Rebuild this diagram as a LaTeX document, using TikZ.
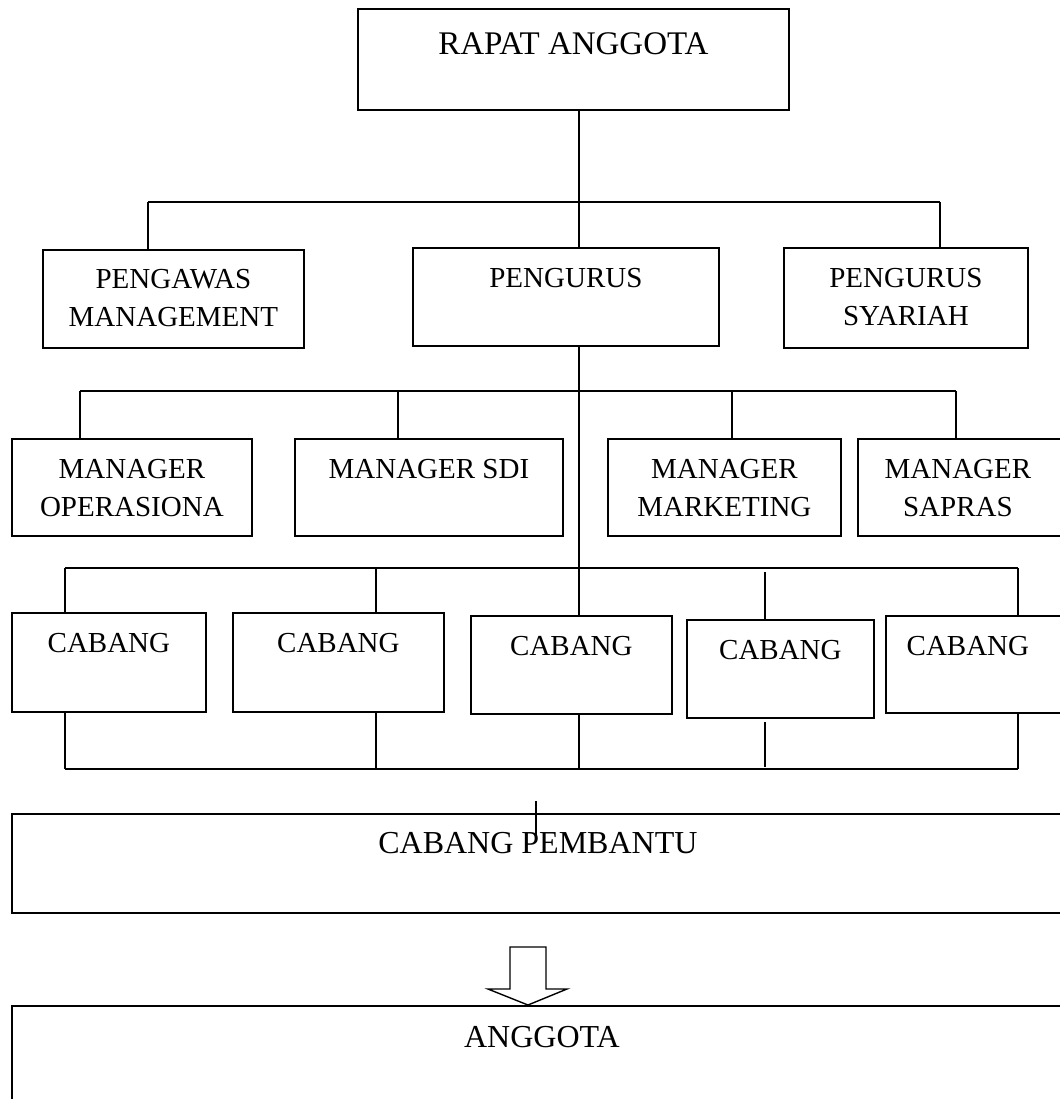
\documentclass[tikz,border=0pt]{standalone}
\usepackage{fontspec}
\setmainfont{Liberation Serif}
\usepackage{tikz}
\usetikzlibrary{positioning}
\tikzset{unit text/.style={anchor=north,inner sep=0pt,yshift=-21pt,align=center,
    font=\fontsize{29}{38}\selectfont}}

\begin{document}
\begin{tikzpicture}[x=1pt,y=-1pt,
    unit/.style={draw,line width=1.8pt,inner sep=0pt,anchor=north west},
    link/.style={line width=1.4pt},
    bus/.style={line width=2.2pt}]

  \useasboundingbox (0,0) rectangle (1059,1099);

  % top level
  \node[unit,minimum width=431pt,minimum height=101pt,
      label={[unit text,yshift=-3pt,font=\fontsize{33}{38}\selectfont]north:RAPAT ANGGOTA}]
    (Rapat) at (357,8) {};
  \node[unit,minimum width=261pt,minimum height=98pt,
      label={[unit text,yshift=1pt]north:{PENGAWAS\\MANAGEMENT}}]
    (Pengawas) at (42,249) {};
  \node[unit,minimum width=306pt,minimum height=98pt,
      label={[unit text]north:PENGURUS}]
    (Pengurus) at (412,247) {};
  \node[unit,minimum width=244pt,minimum height=100pt,
      label={[unit text]north:{PENGURUS\\SYARIAH}}]
    (Syariah) at (783,247) {};

  % managers
  \node[unit,minimum width=240pt,minimum height=97pt,
      label={[unit text]north:{MANAGER\\OPERASIONA}}]
    (Operasional) at (11,438) {};
  \node[unit,minimum width=268pt,minimum height=97pt,
      label={[unit text]north:MANAGER SDI}]
    (SDI) at (294,438) {};
  \node[unit,minimum width=233pt,minimum height=97pt,
      label={[unit text]north:{MANAGER\\MARKETING}}]
    (Marketing) at (607,438) {};
  \node[unit,minimum width=210pt,minimum height=97pt,
      label={[unit text,xshift=-5pt]north:{MANAGER\\SAPRAS}}]
    (Sapras) at (857,438) {};

  % branches
  \node[unit,minimum width=194pt,minimum height=99pt,
      label={[unit text]north:CABANG}]
    (CabangA) at (11,612) {};
  \node[unit,minimum width=211pt,minimum height=99pt,
      label={[unit text]north:CABANG}]
    (CabangB) at (232,612) {};
  \node[unit,minimum width=201pt,minimum height=98pt,
      label={[unit text]north:CABANG}]
    (CabangC) at (470,615) {};
  \node[unit,minimum width=187pt,minimum height=98pt,
      label={[unit text]north:CABANG}]
    (CabangD) at (686,619) {};
  \node[unit,minimum width=180pt,minimum height=97pt,
      label={[unit text,xshift=-8pt]north:CABANG}]
    (CabangE) at (885,615) {};

  \node[unit,minimum width=1060pt,minimum height=99pt,
      label={[unit text,yshift=2pt,xshift=-4pt,font=\fontsize{32}{38}\selectfont]north:CABANG PEMBANTU}]
    (Pembantu) at (11,813) {};
  \node[unit,minimum width=1060pt,minimum height=110pt,
      label={[unit text,font=\fontsize{32}{38}\selectfont]north:ANGGOTA}]
    (Anggota) at (11,1005) {};

  % bus points
  \coordinate (Spine) at (579,0);
  \coordinate (TopBusL) at (148,202);
  \coordinate (TopBusR) at (940,202);
  \coordinate (MgrBusL) at (80,391);
  \coordinate (MgrBusR) at (956,391);
  \coordinate (CabBusL) at (65,568);
  \coordinate (CabBusR) at (1018,568);
  \coordinate (BotBusL) at (65,769);
  \coordinate (BotBusR) at (1018,769);
  \coordinate (DropD) at (765,572);
  \coordinate (RiseD) at (765,767);
  \coordinate (Stub) at (536,801);

  \draw[link] (Rapat.south -| Spine) -- (Pengurus.north -| Spine);
  \draw[link] (TopBusL) -- (TopBusR);
  \draw[link] (TopBusL) -- (TopBusL |- Pengawas.north);
  \draw[link] (TopBusR) -- (TopBusR |- Syariah.north);

  \draw[link] (Pengurus.south -| Spine) -- (CabangC.north -| Spine);
  \draw[link] (MgrBusL) -- (MgrBusR);
  \foreach \x/\unit in {80/Operasional,398/SDI,732/Marketing,956/Sapras}
    \draw[link] (\x,391) -- (\x,391 |- \unit.north);

  \draw[bus] (CabBusL) -- (CabBusR);
  \draw[link] (CabBusL) -- (CabBusL |- CabangA.north);
  \draw[link] (376,568) -- (376,568 |- CabangB.north);
  \draw[link] (DropD) -- (DropD |- CabangD.north);
  \draw[link] (CabBusR) -- (CabBusR |- CabangE.north);

  \draw[link] (CabangA.south -| BotBusL) -- (BotBusL);
  \draw[link] (CabangB.south -| 376,0) -- (376,769);
  \draw[link] (CabangC.south -| Spine) -- (BotBusL -| Spine);
  \draw[link] (RiseD |- CabangD.south) ++(0,3) -- (RiseD);
  \draw[link] (CabangE.south -| BotBusR) -- (BotBusR);
  \draw[bus] (BotBusL) -- (BotBusR);

  \draw[link] (Stub) -- ++(0,34);

  % block arrow
  \draw[link,fill=white]
    (510,947) -- (546,947) -- (546,989) -- (567,989)
    -- (Anggota.north -| 528,0) -- (488,989) -- (510,989) -- cycle;

\end{tikzpicture}
\end{document}
